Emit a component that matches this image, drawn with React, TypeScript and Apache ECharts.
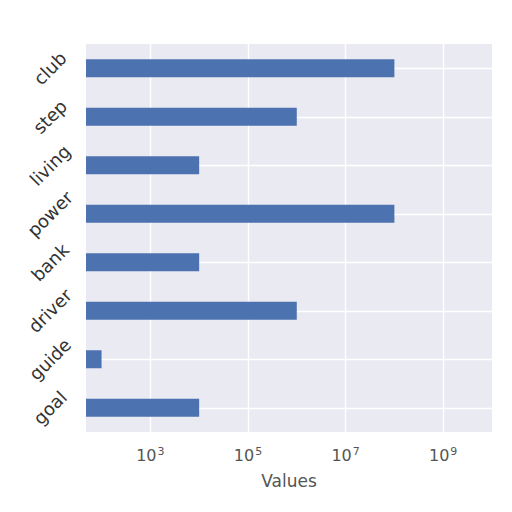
import React, { useEffect, useRef } from 'react';
import * as echarts from 'echarts';

const categories = ['club', 'step', 'living', 'power', 'bank', 'driver', 'guide', 'goal'];
const values = [1e8, 1e6, 1e4, 1e8, 1e4, 1e6, 1e2, 1e4];
const tickValues = [1e3, 1e5, 1e7, 1e9];

// 10^n written as a base and a raised exponent
const powerLabel = (v: number) => `{b|10}{s|${Math.round(Math.log10(v))}}`;

const App: React.FC = () => {
    const chartRef = useRef<HTMLDivElement>(null);

    useEffect(() => {
        if (!chartRef.current) return;
        const chart = echarts.init(chartRef.current, null, { renderer: 'svg' });

        const option = {
            animation: false,
            backgroundColor: '#ffffff',
            textStyle: { fontFamily: 'DejaVu Sans' },
            grid: {
                left: 86,
                right: 20,
                top: 44,
                bottom: 80,
                show: true,
                backgroundColor: '#EAEAF2',
                borderWidth: 0
            },
            xAxis: {
                type: 'log',
                logBase: 10,
                min: 48,
                max: 1e10,
                name: 'Values',
                nameLocation: 'middle',
                nameGap: 40,
                nameTextStyle: { fontSize: 17, color: '#555555' },
                axisLine: { show: false },
                axisTick: { show: false, customValues: tickValues },
                axisLabel: {
                    customValues: tickValues,
                    margin: 14,
                    color: '#555555',
                    formatter: (v: number) => powerLabel(v),
                    rich: {
                        b: { fontSize: 16, color: '#555555', fontFamily: 'DejaVu Sans' },
                        s: {
                            fontSize: 11,
                            color: '#555555',
                            fontFamily: 'DejaVu Sans',
                            padding: [0, 0, 8, 1]
                        }
                    }
                },
                splitLine: { show: true, lineStyle: { color: '#ffffff', width: 1.4 } }
            },
            yAxis: {
                type: 'category',
                data: categories,
                inverse: true,
                axisLine: { show: false },
                axisTick: { show: false },
                axisLabel: {
                    rotate: 45,
                    align: 'center',
                    verticalAlign: 'middle',
                    margin: 36,
                    fontSize: 18,
                    color: '#333333'
                },
                splitLine: {
                    show: true,
                    alignWithLabel: true,
                    lineStyle: { color: '#ffffff', width: 1.4 }
                }
            },
            series: [
                {
                    type: 'bar',
                    data: values,
                    barWidth: 18,
                    clip: true,
                    itemStyle: { color: '#4C72B0' }
                }
            ]
        };

        chart.setOption(option);
        return () => chart.dispose();
    }, []);

    return (
        <div
            ref={chartRef}
            style={{ position: 'absolute', left: 0, top: 0, width: 512, height: 512 }}
        />
    );
};

export default App;
